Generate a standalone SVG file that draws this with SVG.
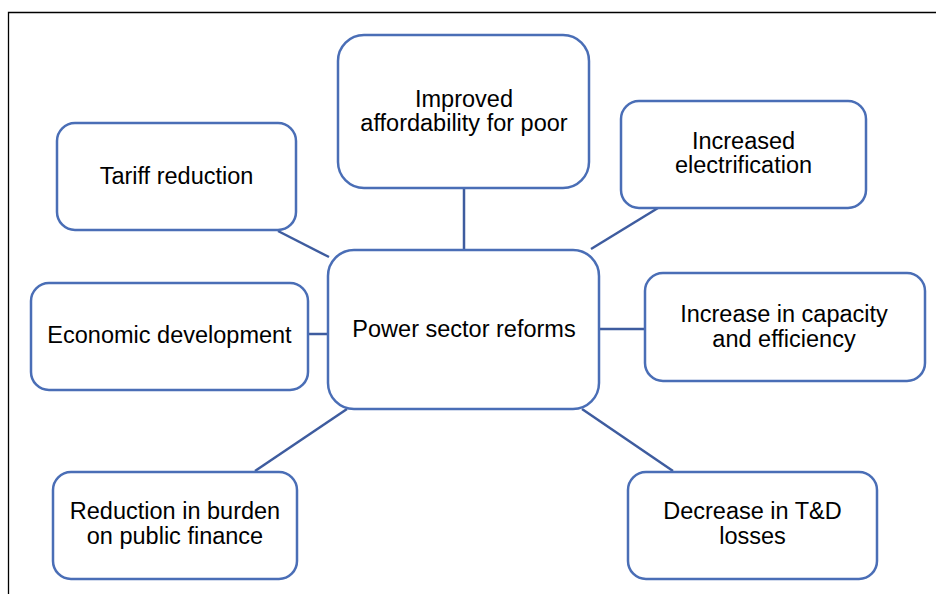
<svg xmlns="http://www.w3.org/2000/svg" width="936" height="594" viewBox="0 0 936 594">
  <style>
    .box { fill: #ffffff; stroke: #4A6EB6; stroke-width: 2.5; }
    .conn { stroke: #3E5C9F; stroke-width: 2.5; fill: none; }
    .lbl { font-family: "Liberation Sans", Arial, sans-serif; font-size: 23.5px; fill: #000000; text-anchor: middle; }
    .frame { stroke: #000000; stroke-width: 1.3; fill: none; }
  </style>
  <rect x="0" y="0" width="936" height="594" fill="#ffffff"/>
  <path class="frame" d="M8.5,594 V12.5 H936"/>

  <g id="connectors">
    <line class="conn" x1="464" y1="188" x2="464" y2="250"/>
    <line class="conn" x1="278" y1="231" x2="329" y2="257"/>
    <line class="conn" x1="658" y1="208" x2="591" y2="249"/>
    <line class="conn" x1="308" y1="334" x2="328" y2="334"/>
    <line class="conn" x1="599" y1="329" x2="645" y2="329"/>
    <line class="conn" x1="347" y1="409" x2="255" y2="471"/>
    <line class="conn" x1="582" y1="409" x2="673" y2="471"/>
  </g>

  <g id="node-center">
    <rect class="box" x="328" y="250" width="271" height="159" rx="26"/>
    <text class="lbl" x="464" y="337">Power sector reforms</text>
  </g>

  <g id="node-affordability">
    <rect class="box" x="338" y="35" width="251" height="153" rx="26"/>
    <text class="lbl" x="464" y="107">Improved</text>
    <text class="lbl" x="464" y="131">affordability for poor</text>
  </g>

  <g id="node-tariff">
    <rect class="box" x="57" y="123" width="239" height="107" rx="18"/>
    <text class="lbl" x="176.5" y="184">Tariff reduction</text>
  </g>

  <g id="node-electrification">
    <rect class="box" x="621" y="101" width="245" height="107" rx="18"/>
    <text class="lbl" x="743.5" y="149">Increased</text>
    <text class="lbl" x="743.5" y="173">electrification</text>
  </g>

  <g id="node-economic">
    <rect class="box" x="31" y="283" width="277" height="107" rx="18"/>
    <text class="lbl" x="169.5" y="343">Economic development</text>
  </g>

  <g id="node-capacity">
    <rect class="box" x="645" y="273" width="280" height="108" rx="18"/>
    <text class="lbl" x="784" y="322">Increase in capacity</text>
    <text class="lbl" x="784" y="347">and efficiency</text>
  </g>

  <g id="node-burden">
    <rect class="box" x="53" y="472" width="244" height="107" rx="18"/>
    <text class="lbl" x="175" y="519">Reduction in burden</text>
    <text class="lbl" x="175" y="544">on public finance</text>
  </g>

  <g id="node-td">
    <rect class="box" x="628" y="472" width="249" height="107" rx="18"/>
    <text class="lbl" x="752.5" y="519">Decrease in T&amp;D</text>
    <text class="lbl" x="752.5" y="544">losses</text>
  </g>
</svg>
